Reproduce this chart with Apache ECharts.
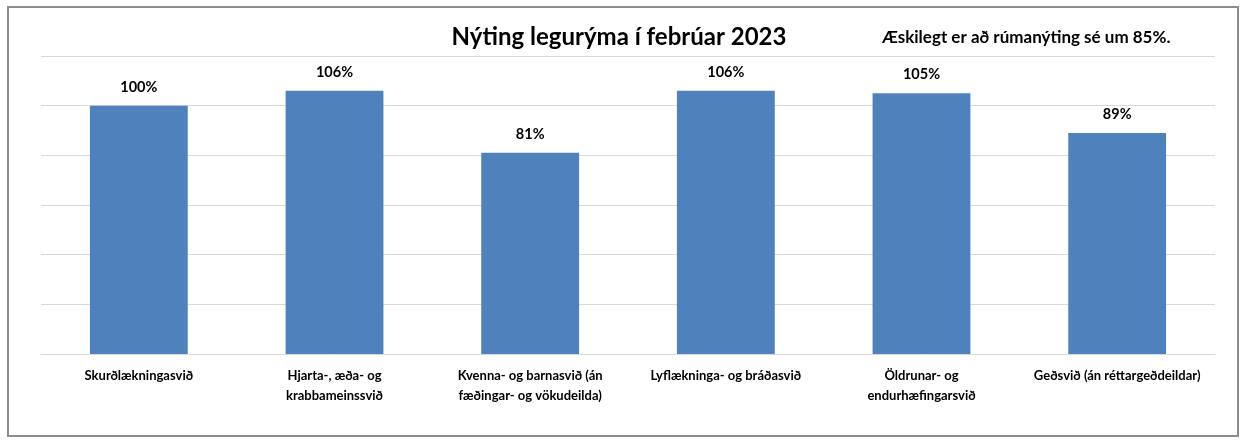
<!DOCTYPE html>
<html>
<head>
<meta charset="utf-8">
<script src="https://cdn.jsdelivr.net/npm/echarts@6/dist/echarts.min.js"></script>
<style>
  html, body { margin: 0; padding: 0; background: #fff; }
  #frame { position: absolute; left: 7px; top: 6px; width: 1232px; height: 431px; border: 2px solid #8c8c8c; box-sizing: border-box; }
  #main { width: 1245px; height: 441px; }
</style>
</head>
<body>
<div id="frame"></div>
<div id="main"></div>
<script>
// flokkar (svið) og nýting
var categories = [
  'Skurðlækningasvið',
  'Hjarta-, æða- og\nkrabbameinssvið',
  'Kvenna- og barnasvið (án\nfæðingar- og vökudeilda)',
  'Lyflækninga- og bráðasvið',
  'Öldrunar- og\nendurhæfingarsvið',
  'Geðsvið (án réttargeðdeildar)'
];
var occupancy = [1.00, 1.06, 0.81, 1.06, 1.05, 0.89];

var titleText = 'Nýting legurýma í febrúar 2023';
var noteText = 'Æskilegt er að rúmanýting sé um 85%.';

var font = 'Lato, "Open Sans", sans-serif';

var myChart = echarts.init(document.getElementById('main'));
myChart.setOption({
  animation: false,
  title: [
    { text: titleText, left: 614, top: 20, textAlign: 'center',
      textStyle: { fontFamily: font, fontSize: 24, fontWeight: 'bold', color: '#000' } },
    { text: noteText, left: 877, top: 24,
      textStyle: { fontFamily: font, fontSize: 17, fontWeight: 'bold', color: '#000' } }
  ],
  grid: { left: 41, right: 30, top: 56, bottom: 87, containLabel: false },
  xAxis: {
    type: 'category',
    data: categories,
    axisTick: { show: false },
    axisLine: { lineStyle: { color: '#d9d9d9', width: 1 } },
    axisLabel: {
      interval: 0, margin: 12, lineHeight: 20,
      fontFamily: font, fontSize: 13, fontWeight: 'bold', color: '#000'
    }
  },
  yAxis: {
    type: 'value',
    min: 0, max: 1.2, interval: 0.2,
    axisLabel: { show: false },
    axisLine: { show: false },
    axisTick: { show: false },
    splitLine: { lineStyle: { color: '#d9d9d9', width: 1 } }
  },
  series: [{
    type: 'bar',
    data: occupancy,
    barWidth: '50%',
    itemStyle: { color: '#4f81bd' },
    label: {
      show: true, position: 'top', distance: 11,
      fontFamily: font, fontSize: 14.5, fontWeight: 'bold', color: '#000',
      formatter: function (p) { return Math.round(p.value * 100) + '%'; }
    }
  }]
});
</script>
</body>
</html>
